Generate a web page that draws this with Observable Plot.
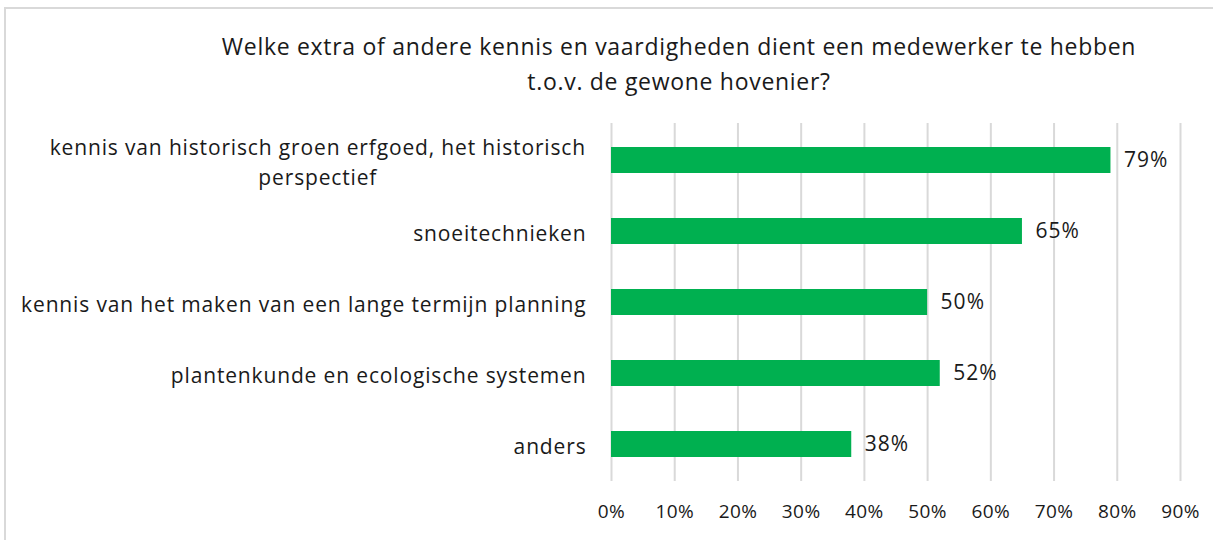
<!DOCTYPE html>
<html>
<head>
<meta charset="utf-8">
<script src="https://cdn.jsdelivr.net/npm/d3@7"></script>
<script src="https://cdn.jsdelivr.net/npm/@observablehq/plot@0.6"></script>
<style>
  html, body { margin: 0; padding: 0; background: #fff; }
  #wrap { position: relative; width: 1213px; height: 540px; overflow: hidden; font-family: "Open Sans", sans-serif; }
  #border { position: absolute; left: 4px; top: 7px; width: 1230px; height: 560px; border: 2px solid #d9d9d9; box-sizing: border-box; }
  #title { position: absolute; left: 0; width: 1358px; top: 29px; text-align: center; font-size: 23px; line-height: 35px; color: #1a1a1a; letter-spacing: 0.7px; }
  #chart { position: absolute; left: 0; top: 110px; }
  .ylab text { letter-spacing: 0.85px; }
  .vlab text { letter-spacing: 1px; }
  .xlab text { letter-spacing: 0.4px; }
</style>
</head>
<body>
<div id="wrap">
  <div id="border"></div>
  <div id="title">Welke extra of andere kennis en vaardigheden dient een medewerker te hebben<br>t.o.v. de gewone hovenier?</div>
  <div id="chart"></div>
</div>
<script>
const categories = [
  "kennis van historisch groen erfgoed, het historisch\nperspectief",
  "snoeitechnieken",
  "kennis van het maken van een lange termijn planning",
  "plantenkunde en ecologische systemen",
  "anders"
];
const values = [0.79, 0.65, 0.50, 0.52, 0.38];
const xTicks = [0, 0.1, 0.2, 0.3, 0.4, 0.5, 0.6, 0.7, 0.8, 0.9];

const data = categories.map((c, i) => ({category: c, value: values[i]}));
const font = '"Open Sans", sans-serif';

const chart = Plot.plot({
  width: 1213,
  height: 430,
  marginLeft: 611,
  marginRight: 33,
  marginTop: 13,
  marginBottom: 59,
  style: {fontFamily: font, background: "transparent"},
  x: {domain: [0, 0.9], ticks: xTicks},
  y: {domain: categories, paddingInner: 0.636, paddingOuter: 0.318},
  marks: [
    Plot.gridX(xTicks, {stroke: "#d9d9d9", strokeOpacity: 1, strokeWidth: 2}),
    Plot.barX(data, {x: "value", y: "category", fill: "#00b050"}),
    Plot.text(data, {x: "value", y: "category", text: d => Math.round(d.value * 100) + "%", textAnchor: "start", dx: 13, fontSize: 21, fill: "#1a1a1a", className: "vlab"}),
    Plot.axisX({ticks: xTicks, tickFormat: d => Math.round(d * 100) + "%", tickSize: 0, tickPadding: 23, fontSize: 19, color: "#1a1a1a", label: null, className: "xlab"}),
    Plot.axisY({tickSize: 0, tickPadding: 25, fontSize: 21, color: "#1a1a1a", label: null, lineHeight: 1.43, className: "ylab"})
  ]
});
document.getElementById("chart").appendChild(chart);

// center-align lines of multi-line y labels
d3.select(chart).selectAll("text").each(function() {
  const tspans = this.querySelectorAll("tspan");
  if (tspans.length > 1) {
    const bb = this.getBBox();
    const cx = bb.x + bb.width / 2;
    this.setAttribute("text-anchor", "middle");
    tspans.forEach(t => { t.setAttribute("x", (+(t.getAttribute("x") || 0)) + (cx - (bb.x + bb.width))); });
  }
});
</script>
</body>
</html>
